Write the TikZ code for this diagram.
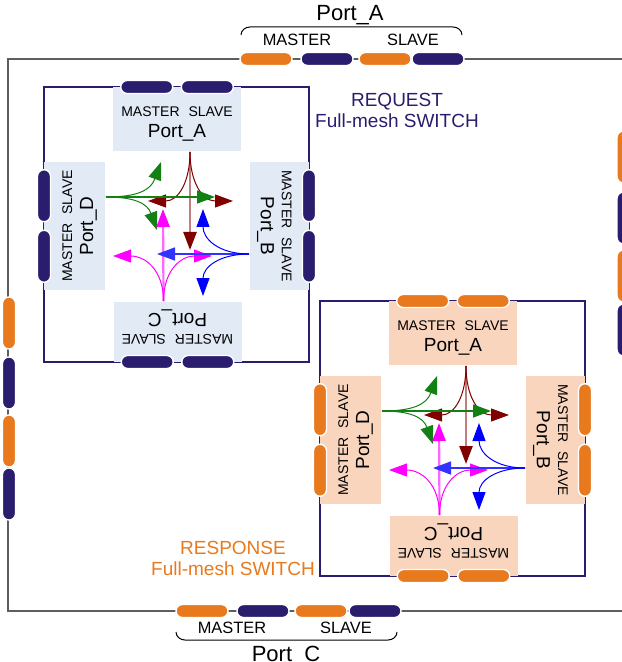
\documentclass[tikz,border=0pt]{standalone}
\usepackage{fontspec}
\setmainfont{Liberation Sans}
\usetikzlibrary{arrows.meta, calc}
\definecolor{navy}{HTML}{2B1D6E}
\definecolor{amber}{HTML}{E8791C}
\definecolor{reqfill}{HTML}{E2EAF6}
\definecolor{rspfill}{HTML}{F9D5BE}
\definecolor{framegray}{HTML}{5E5E5E}
\definecolor{dred}{HTML}{800000}
\definecolor{dgreen}{HTML}{138013}
\definecolor{pmag}{HTML}{FF00FF}
\definecolor{pblue}{HTML}{0000FF}

\tikzset{
  pill/.style={rectangle, rounded corners=3.2pt, draw=white, line width=0.7pt,
    minimum width=26pt, minimum height=6.5pt, inner sep=0pt},
  portbox/.style={rectangle, minimum width=64pt, inner sep=0pt, align=center},
  flow/.style={line width=0.5pt, looseness=1.2, -{Triangle[length=9pt,width=6.5pt]}},
}

% one port of a switch: name, rotation, position, depth, label
\newcommand{\fmport}[5]{%
  \node[portbox, rotate=#2, minimum height=#4, anchor=north] (#1) at #3
    {\rule{0pt}{9.5pt}\fontsize{7}{8}\selectfont MASTER\hspace{4.5pt}SLAVE\\[-1.5pt]\fontsize{9.5}{11}\selectfont #5};
  \node[pill, rotate=#2] (#1-m) at ($(#1.north)!0.47!(#1.north west)$) {};
  \node[pill, rotate=#2] (#1-s) at ($(#1.north)!0.47!(#1.north east)$) {};
}

% full-mesh switch: prefix, origin, box fill, pill fill
\newcommand{\fmswitch}[4]{%
  \begin{scope}[shift={#2}, portbox/.append style={fill=#3}, pill/.append style={fill=#4}]
    \draw[navy, line width=0.7pt] (0,0) rectangle (265,275);
    \fmport{#1A}{0}{(133,0)}{32pt}{Port\_A}
    \fmport{#1D}{90}{(0,139)}{30.5pt}{Port\_D}
    \fmport{#1B}{-90}{(265,139)}{29.5pt}{Port\_B}
    \fmport{#1C}{180}{(133.5,275)}{30pt}{Port\_C}
    % free ends
    \coordinate (#1a1) at (146,163);
    \coordinate (#1a2) at (104,114);
    \coordinate (#1a3) at (189,114);
    \coordinate (#1d1) at (171,110);
    \coordinate (#1d2) at (117,75);
    \coordinate (#1d3) at (113,143);
    \coordinate (#1c1) at (119,122);
    \coordinate (#1c2) at (69,169);
    \coordinate (#1c3) at (168,169);
    \coordinate (#1b1) at (113,167);
    \coordinate (#1b2) at (159,122);
    \coordinate (#1b3) at (159,209);
    % Port_A
    \draw[dred!50, line width=1.2pt, -{Triangle[length=9pt,width=6.5pt,color=dred]}]
      ([xshift=6.5pt]#1A.south) -- (#1a1);
    \draw[dred, flow] ([xshift=6.5pt]#1A.south) to[out=-90,in=0] (#1a2);
    \draw[dred, flow] ([xshift=6.5pt]#1A.south) to[out=-90,in=180] (#1a3);
    % Port_D
    \draw[dgreen, flow, line width=0.7pt] ([yshift=14.5pt]#1D.south) -- (#1d1);
    \draw[dgreen, flow] ([yshift=14.5pt]#1D.south) to[out=0,in=-110] (#1d2);
    \draw[dgreen, flow] ([yshift=14.5pt]#1D.south) to[out=0,in=110] (#1d3);
    % Port_C
    \draw[pmag!60, line width=1.1pt, -{Triangle[length=9pt,width=6.5pt,color=pmag]}]
      ([xshift=-7pt]#1C.south) -- (#1c1);
    \draw[pmag, flow] ([xshift=-7pt]#1C.south) to[out=90,in=0] (#1c2);
    \draw[pmag, flow] ([xshift=-7pt]#1C.south) to[out=90,in=180] (#1c3);
    % Port_B
    \draw[pblue!80, flow, line width=0.8pt] ([yshift=-14pt]#1B.south) -- (#1b1);
    \draw[pblue, flow] ([yshift=-14pt]#1B.south) to[out=180,in=-90] (#1b2);
    \draw[pblue, flow] ([yshift=-14pt]#1B.south) to[out=180,in=90] (#1b3);
  \end{scope}}

\begin{document}
\begin{tikzpicture}[x=0.5pt, y=-0.5pt]
  \useasboundingbox (0,0) rectangle (621,662);
  % outer frame and its ports
  \draw[framegray, line width=0.7pt] (8,59) rectangle (623.5,611);
  \foreach \x/\c [count=\i] in {266/amber, 327/navy, 385/amber, 438/navy}
    \node[pill, fill=\c] (top\i) at (\x,59) {};
  \foreach \x/\c [count=\i] in {202/amber, 263/navy, 321/amber, 375/navy}
    \node[pill, fill=\c] (bot\i) at (\x,611) {};
  \foreach \y/\c [count=\i] in {323/amber, 383/navy, 441/amber, 494/navy}
    \node[pill, fill=\c, rotate=90] (left\i) at (9,\y) {};
  \foreach \y/\c [count=\i] in {157/amber, 218/navy, 276/amber, 330/navy}
    \node[pill, fill=\c, rotate=90] (right\i) at (623.5,\y) {};

  \node[font=\fontsize{11}{13}\selectfont] (topname) at (350,15) {Port\_A};
  \node[font=\fontsize{8.2}{10}\selectfont] (topmaster) at (297,40) {MASTER};
  \node[font=\fontsize{8.2}{10}\selectfont] (topslave) at (413,40) {SLAVE};
  \draw[line width=0.5pt] (241,35) to[out=90,in=180] (250,27) -- (453,27)
    to[out=0,in=90] (462,35);

  \node[font=\fontsize{8.2}{10}\selectfont] (botmaster) at (232,628) {MASTER};
  \node[font=\fontsize{8.2}{10}\selectfont] (botslave) at (346,628) {SLAVE};
  \node[font=\fontsize{11}{13}\selectfont] (botname) at (286,656) {Port\_C};
  \draw[line width=0.5pt] (176,632) to[out=-90,in=180] (185,640) -- (388,640)
    to[out=0,in=-90] (397,632);

  % the two switches
  \fmswitch{q}{(44,87)}{reqfill}{navy}
  \fmswitch{p}{(320,301)}{rspfill}{amber}

  \node[navy, align=center, font=\fontsize{9.5}{10.5}\selectfont] (reqlabel)
    at (397,110) {REQUEST\\Full-mesh SWITCH};
  \node[amber, align=center, font=\fontsize{9.5}{10.5}\selectfont] (rsplabel)
    at (233,558) {RESPONSE\\Full-mesh SWITCH};
\end{tikzpicture}
\end{document}
